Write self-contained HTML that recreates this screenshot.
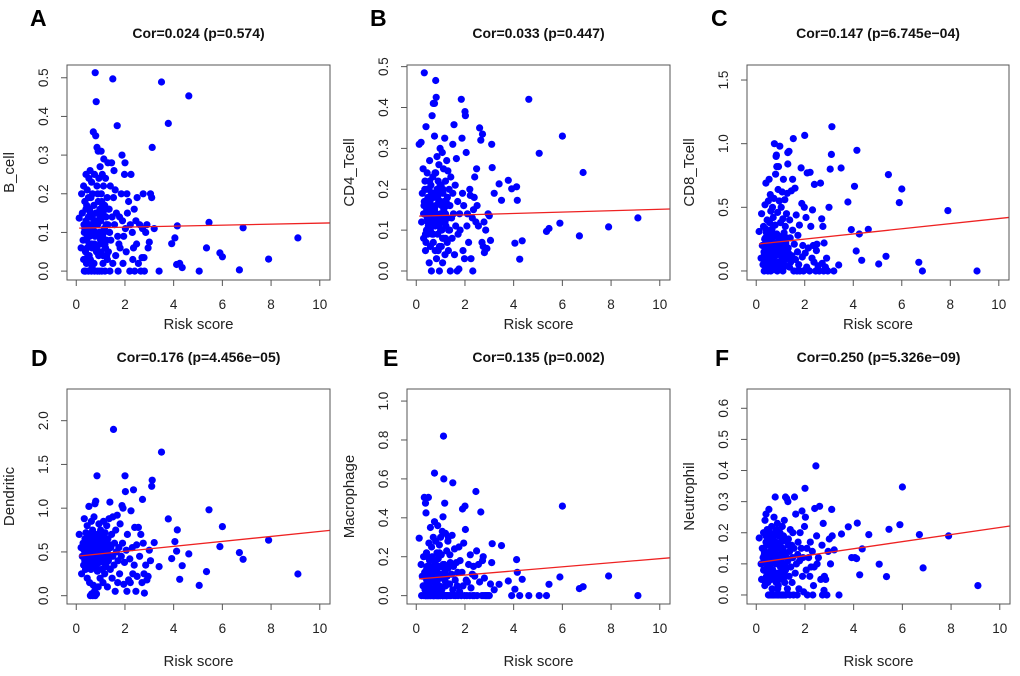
<!DOCTYPE html>
<html><head><meta charset="utf-8"><style>
html,body{margin:0;padding:0;background:#fff;}
svg{display:block;font-family:"Liberation Sans",Arial,sans-serif;}
</style></head><body>
<svg id="fig" width="1020" height="676" viewBox="0 0 1020 676" xmlns="http://www.w3.org/2000/svg"></svg>
<script>
// Shared risk score (x) values
const riskScore = [
0.12,0.2,0.22,0.25,0.28,0.3,0.32,0.33,0.35,0.36,0.38,0.4,0.4,0.42,0.43,0.45,0.45,0.47,0.48,0.5,
0.5,0.52,0.53,0.55,0.55,0.57,0.58,0.6,0.6,0.62,0.63,0.65,0.65,0.67,0.68,0.7,0.7,0.72,0.73,0.75,
0.75,0.77,0.78,0.8,0.8,0.82,0.83,0.85,0.85,0.87,0.88,0.9,0.9,0.92,0.93,0.95,0.95,0.97,0.98,1.0,
1.0,1.02,1.03,1.05,1.07,1.08,1.1,1.1,1.12,1.13,1.15,1.17,1.18,1.2,1.2,1.22,1.25,1.27,1.28,1.3,
1.3,1.32,1.35,1.37,1.38,1.4,1.42,1.45,1.47,1.5,1.5,1.53,1.55,1.57,1.6,1.62,1.65,1.68,1.7,1.72,
1.75,1.78,1.8,1.85,1.88,1.9,1.92,1.95,1.98,2.0,2.02,2.05,2.08,2.1,2.15,2.2,2.22,2.25,2.3,2.32,
2.35,2.38,2.4,2.45,2.48,2.5,2.55,2.6,2.65,2.7,2.72,2.75,2.78,2.8,2.85,2.9,2.95,3.0,3.05,3.1,
0.3,0.35,0.4,0.45,0.5,0.55,0.6,0.65,0.7,0.75,0.8,0.85,0.9,0.95,1.0,1.05,1.1,1.15,1.2,1.25,
0.33,0.38,0.43,0.48,0.53,0.58,0.63,0.68,0.73,0.78,0.83,0.88,0.93,0.98,1.03,1.08,1.13,1.18,1.23,1.33,
3.12,3.2,3.4,3.5,3.78,3.92,4.05,4.12,4.15,4.25,4.35,4.62,5.05,5.35,5.45,5.9,6.0,6.7,6.85,7.9,9.1];

const bCell = [
0.137,0.06,0.2,0.15,0.08,0.22,0.12,0.0,0.18,0.1,0.05,0.13,0.25,0.02,0.17,0.09,0.21,0.11,0.04,0.14,
0.0,0.24,0.07,0.16,0.12,0.26,0.03,0.19,0.1,0.0,0.23,0.14,0.06,0.2,0.11,0.36,0.02,0.17,0.13,0.25,
0.0,0.09,0.513,0.35,0.15,0.438,0.05,0.32,0.22,0.0,0.12,0.31,0.18,0.04,0.24,0.1,0.0,0.16,0.27,0.07,
0.13,0.31,0.2,0.0,0.25,0.09,0.15,0.04,0.22,0.29,0.11,0.17,0.0,0.06,0.24,0.14,0.08,0.19,0.03,0.12,
0.28,0.05,0.16,0.1,0.0,0.22,0.08,0.28,0.14,0.497,0.02,0.19,0.26,0.12,0.21,0.04,0.15,0.376,0.09,0.0,
0.07,0.14,0.06,0.2,0.3,0.13,0.02,0.09,0.25,0.28,0.11,0.05,0.2,0.15,0.18,0.0,0.12,0.25,0.1,0.03,
0.06,0.16,0.0,0.13,0.07,0.19,0.02,0.12,0.0,0.035,0.11,0.2,0.035,0.0,0.1,0.12,0.06,0.075,0.2,0.19,
0.03,0.11,0.16,0.06,0.19,0.09,0.14,0.01,0.12,0.07,0.1,0.05,0.15,0.13,0.08,0.18,0.02,0.11,0.16,0.04,
0.1,0.0,0.08,0.12,0.04,0.15,0.07,0.11,0.02,0.13,0.06,0.2,0.09,0.14,0.05,0.17,0.1,0.07,0.12,0.16,
0.32,0.11,0.0,0.489,0.382,0.071,0.086,0.017,0.117,0.02,0.009,0.453,0.0,0.06,0.126,0.047,0.037,0.003,0.112,0.031,0.086];

const cd4Tcell = [
0.31,0.315,0.12,0.19,0.25,0.08,0.16,0.485,0.14,0.22,0.05,0.353,0.17,0.1,0.2,0.13,0.24,0.09,0.18,0.15,
0.11,0.2,0.02,0.27,0.14,0.17,0.06,0.21,0.12,0.0,0.19,0.09,0.38,0.15,0.23,0.41,0.07,0.18,0.13,0.33,
0.41,0.24,0.11,0.466,0.16,0.425,0.03,0.2,0.28,0.13,0.09,0.22,0.05,0.17,0.26,0.12,0.0,0.19,0.3,0.14,
0.1,0.21,0.06,0.16,0.29,0.02,0.19,0.12,0.25,0.08,0.17,0.325,0.04,0.14,0.22,0.11,0.27,0.07,0.18,0.13,
0.245,0.05,0.2,0.1,0.16,0.0,0.23,0.13,0.08,0.19,0.31,0.14,0.358,0.04,0.21,0.11,0.275,0.0,0.17,0.09,
0.005,0.14,0.1,0.42,0.325,0.19,0.05,0.16,0.03,0.39,0.38,0.29,0.11,0.14,0.07,0.2,0.185,0.03,0.13,0.0,
0.15,0.18,0.23,0.12,0.25,0.16,0.11,0.35,0.32,0.07,0.335,0.06,0.12,0.045,0.1,0.055,0.14,0.135,0.075,0.31,
0.14,0.2,0.07,0.16,0.11,0.22,0.13,0.18,0.09,0.15,0.24,0.12,0.19,0.06,0.17,0.1,0.2,0.14,0.08,0.16,
0.17,0.09,0.15,0.12,0.2,0.1,0.16,0.13,0.19,0.05,0.14,0.18,0.11,0.21,0.13,0.08,0.15,0.12,0.17,0.1,
0.253,0.19,0.213,0.173,0.222,0.201,0.068,0.206,0.173,0.029,0.074,0.42,0.288,0.097,0.104,0.117,0.33,0.086,0.241,0.108,0.13];

const cd8Tcell = [
0.31,0.1,0.45,0.2,0.05,0.35,0.15,0.0,0.25,0.52,0.08,0.69,0.18,0.3,0.02,0.4,0.12,0.22,0.0,0.55,
0.14,0.28,0.72,0.06,0.38,0.19,0.6,0.0,0.47,0.24,0.1,0.33,0.03,0.5,0.16,0.27,0.42,0.08,0.57,0.21,
1.0,0.12,0.36,0.76,0.05,0.9,0.91,0.29,0.82,0.0,0.46,0.17,0.64,0.82,0.23,0.06,0.55,0.98,0.14,0.38,
0.02,0.27,0.5,0.11,0.62,0.19,0.0,0.41,0.72,0.08,0.3,0.15,0.56,0.04,0.35,0.22,0.45,0.1,0.61,0.84,
0.93,0.18,0.94,0.03,0.4,0.26,0.07,0.63,0.12,0.72,0.32,1.04,0.0,0.21,0.65,0.09,0.44,0.0,0.15,0.28,
0.05,0.36,0.0,0.81,0.53,0.11,0.2,0.0,0.5,1.065,0.14,0.42,0.03,0.77,0.18,0.0,0.775,0.35,0.1,0.48,
0.2,0.07,0.68,0.0,0.16,0.21,0.04,0.0,0.69,0.41,0.06,0.35,0.0,0.22,0.03,0.1,0.0,0.5,0.8,0.916,
0.2,0.08,0.33,0.15,0.25,0.04,0.18,0.3,0.1,0.22,0.12,0.28,0.06,0.19,0.14,0.24,0.02,0.17,0.09,0.26,
0.12,0.26,0.05,0.2,0.16,0.3,0.09,0.23,0.13,0.01,0.19,0.27,0.07,0.15,0.21,0.11,0.25,0.04,0.18,0.14,
1.133,0.0,0.047,0.809,0.542,0.325,0.665,0.157,0.948,0.29,0.084,0.327,0.055,0.115,0.757,0.537,0.644,0.068,0.0,0.474,0.0];

const dendritic = [
0.7,0.55,0.25,0.45,0.6,0.35,0.52,0.88,0.4,0.65,0.3,0.5,0.72,0.45,0.58,0.2,0.8,0.42,0.62,0.5,
0.38,1.02,0.48,0.7,0.15,0.55,0.0,0.62,0.42,0.85,0.02,0.5,0.33,0.75,0.0,0.58,0.12,0.45,0.9,0.05,
0.52,1.05,0.0,1.08,0.35,0.6,0.02,0.48,1.37,0.28,0.7,0.55,0.1,0.45,0.82,0.62,0.38,0.5,0.2,0.65,
0.75,0.42,0.58,0.3,0.68,0.5,0.15,0.6,0.85,0.4,0.55,0.25,0.72,0.45,0.62,0.35,0.8,0.52,0.1,0.48,
0.65,0.4,0.88,0.58,1.07,0.3,0.55,0.7,0.2,0.45,0.9,1.9,0.35,0.6,0.05,0.75,0.5,0.92,0.15,0.4,
0.55,0.25,0.82,0.45,1.03,0.6,1.0,0.13,0.38,1.37,1.19,0.52,0.05,0.7,0.18,0.42,0.15,0.97,0.55,0.25,
1.21,0.35,0.78,0.05,0.58,0.22,0.78,0.45,0.7,0.15,1.1,0.6,0.25,0.03,0.35,0.18,0.22,0.52,0.4,1.25,
0.45,0.62,0.38,0.55,0.7,0.48,0.3,0.58,0.65,0.42,0.52,0.36,0.6,0.47,0.7,0.4,0.55,0.63,0.33,0.5,
0.6,0.42,0.5,0.68,0.35,0.57,0.46,0.72,0.4,0.54,0.62,0.3,0.49,0.66,0.44,0.58,0.38,0.53,0.61,0.45,
1.32,0.607,0.332,1.641,0.878,0.424,0.618,0.508,0.752,0.187,0.343,0.477,0.118,0.275,0.981,0.561,0.79,0.492,0.416,0.634,0.248];

const macrophage = [
0.295,0.16,0.0,0.1,0.05,0.2,0.0,0.505,0.12,0.03,0.475,0.0,0.425,0.22,0.08,0.0,0.15,0.06,0.0,0.505,
0.0,0.27,0.1,0.0,0.18,0.04,0.35,0.0,0.12,0.07,0.25,0.0,0.2,0.03,0.14,0.0,0.3,0.09,0.0,0.63,
0.38,0.0,0.17,0.06,0.28,0.0,0.13,0.22,0.0,0.08,0.36,0.02,0.19,0.0,0.11,0.05,0.26,0.0,0.15,0.3,
0.0,0.09,0.21,0.03,0.33,0.0,0.405,0.16,0.82,0.6,0.0,0.475,0.12,0.05,0.32,0.0,0.23,0.1,0.0,0.28,
0.14,0.3,0.0,0.06,0.21,0.17,0.0,0.11,0.31,0.58,0.03,0.15,0.0,0.24,0.08,0.0,0.17,0.05,0.12,0.0,
0.25,0.02,0.18,0.0,0.12,0.445,0.05,0.27,0.0,0.46,0.34,0.08,0.0,0.07,0.16,0.0,0.21,0.04,0.11,0.0,
0.15,0.0,0.1,0.535,0.23,0.0,0.16,0.07,0.43,0.0,0.18,0.2,0.0,0.09,0.0,0.0,0.0,0.0,0.06,0.17,
0.05,0.12,0.0,0.2,0.08,0.15,0.02,0.1,0.0,0.18,0.06,0.13,0.0,0.22,0.04,0.11,0.0,0.16,0.07,0.0,
0.1,0.0,0.14,0.03,0.19,0.0,0.08,0.12,0.0,0.16,0.05,0.0,0.11,0.02,0.15,0.0,0.09,0.13,0.0,0.06,
0.267,0.03,0.058,0.257,0.075,0.0,0.033,0.185,0.12,0.0,0.084,0.0,0.0,0.0,0.058,0.096,0.46,0.036,0.046,0.101,0.0];

const neutrophil = [
0.183,0.1,0.05,0.15,0.12,0.2,0.08,0.14,0.03,0.24,0.11,0.26,0.17,0.06,0.13,0.21,0.09,0.16,0.04,0.12,
0.0,0.275,0.1,0.18,0.07,0.2,0.13,0.0,0.16,0.05,0.22,0.11,0.02,0.15,0.08,0.19,0.0,0.12,0.25,0.06,
0.14,0.0,0.315,0.1,0.17,0.04,0.21,0.0,0.12,0.23,0.07,0.16,0.0,0.19,0.1,0.13,0.05,0.2,0.0,0.15,
0.09,0.17,0.0,0.12,0.22,0.06,0.15,0.0,0.19,0.1,0.24,0.04,0.13,0.315,0.08,0.0,0.31,0.17,0.02,0.3,
0.11,0.18,0.06,0.14,0.0,0.21,0.09,0.16,0.04,0.12,0.2,0.0,0.15,0.315,0.07,0.26,0.1,0.0,0.13,0.17,
0.02,0.11,0.2,0.15,0.27,0.06,0.12,0.01,0.22,0.343,0.25,0.08,0.15,0.0,0.12,0.06,0.17,0.09,0.14,0.0,
0.03,0.09,0.278,0.415,0.19,0.1,0.12,0.285,0.05,0.16,0.0,0.23,0.015,0.06,0.05,0.0,0.14,0.18,0.1,0.275,
0.08,0.14,0.19,0.05,0.12,0.17,0.1,0.0,0.15,0.07,0.2,0.11,0.03,0.16,0.09,0.13,0.0,0.18,0.06,0.12,
0.13,0.04,0.16,0.1,0.0,0.14,0.08,0.18,0.11,0.05,0.15,0.02,0.12,0.19,0.07,0.1,0.14,0.0,0.09,0.16,
0.19,0.145,0.0,0.196,0.219,0.12,0.12,0.117,0.231,0.065,0.148,0.194,0.099,0.059,0.211,0.226,0.347,0.194,0.087,0.19,0.03];

const panelTitles = ["Cor=0.024 (p=0.574)","Cor=0.033 (p=0.447)","Cor=0.147 (p=6.745e\u221204)","Cor=0.176 (p=4.456e\u221205)","Cor=0.135 (p=0.002)","Cor=0.250 (p=5.326e\u221209)"];
const panelLetters = ["A","B","C","D","E","F"];
const yLabels = ["B_cell","CD4_Tcell","CD8_Tcell","Dendritic","Macrophage","Neutrophil"];
const xTicks = [0,2,4,6,8,10];
const yTicksA = ["0.0","0.1","0.2","0.3","0.4","0.5"];
const yTicksB = ["0.0","0.1","0.2","0.3","0.4","0.5"];
const yTicksC = ["0.0","0.5","1.0","1.5"];
const yTicksD = ["0.0","0.5","1.0","1.5","2.0"];
const yTicksE = ["0.0","0.2","0.4","0.6","0.8","1.0"];
const yTicksF = ["0.0","0.1","0.2","0.3","0.4","0.5","0.6"];
const fitIntercepts = [0.111,0.134,0.21,0.45,0.085,0.103];
const fitSlopes = [0.0013,0.0017,0.0202,0.0284,0.0105,0.0114];

const series = [bCell,cd4Tcell,cd8Tcell,dendritic,macrophage,neutrophil];
const yTickSets = [yTicksA,yTicksB,yTicksC,yTicksD,yTicksE,yTicksF];
const yLims = [[-0.023,0.533],[-0.022,0.504],[-0.071,1.618],[-0.095,2.362],[-0.043,1.062],[-0.029,0.662]];
const xLim = [-0.38,10.42];
const boxes = [[67,65,263,215],[407,65,263,215],[747,65,262,215],[67,389,263,215],[407,389,263,215],[747,389,263,215]];
const letterPos = [[30,26],[370,26],[711,26],[31,366],[383,366],[715,366]];

const NS="http://www.w3.org/2000/svg";
const svg=document.getElementById('fig');
function mk(tag,attrs,parent){const e=document.createElementNS(NS,tag);for(const k in attrs)e.setAttribute(k,attrs[k]);(parent||svg).appendChild(e);return e;}

for(let p=0;p<6;p++){
  const [bx,by,bw,bh]=boxes[p];
  const yl=yLims[p];
  const sx=v=>bx+(v-xLim[0])/(xLim[1]-xLim[0])*bw;
  const sy=v=>by+bh-(v-yl[0])/(yl[1]-yl[0])*bh;
  const g=mk('g',{});
  
  

  const L=mk('text',{x:letterPos[p][0],y:letterPos[p][1],'font-size':23,'font-weight':'bold',fill:'#000'},g);
  L.textContent=panelLetters[p];
  
  

  const T=mk('text',{x:bx+bw/2,y:by-27,'font-size':14,'font-weight':'bold','text-anchor':'middle',fill:'#111'},g);
  T.textContent=panelTitles[p];
  
  

  const pts=mk('g',{fill:'#0000ff'},g);
  
  
  const ys=series[p];
  for(let i=0;i<riskScore.length;i++){
    const c=mk('circle',{cx:sx(riskScore[i]).toFixed(1),cy:sy(ys[i]).toFixed(1),r:3.6},pts);
    
    
  }
  const x1=0.12,x2=xLim[1];
  const ln=mk('line',{x1:sx(x1),y1:sy(fitIntercepts[p]+fitSlopes[p]*x1),x2:bx+bw,y2:sy(fitIntercepts[p]+fitSlopes[p]*x2),stroke:'#ee2222','stroke-width':1.3},g);
  
  

  const box=mk('rect',{x:bx,y:by,width:bw,height:bh,fill:'none',stroke:'#555','stroke-width':1},g);
  
  

  const xa=mk('g',{},g);
  
  
  mk('line',{x1:sx(xTicks[0]),x2:sx(xTicks[xTicks.length-1]),y1:by+bh,y2:by+bh,stroke:'#555'},xa);
  for(const t of xTicks){
    mk('line',{x1:sx(t),x2:sx(t),y1:by+bh,y2:by+bh+6,stroke:'#555'},xa);
    const tx=mk('text',{x:sx(t),y:by+bh+29,'font-size':13.5,'text-anchor':'middle',fill:'#222'},xa);
    tx.textContent=t;
    
    
  }
  const xt=mk('text',{x:bx+bw/2,y:(p<3?by+bh+49:by+bh+62),'font-size':15,'text-anchor':'middle',fill:'#222'},g);
  xt.textContent='Risk score';
  
  

  const ya=mk('g',{},g);
  
  
  const tk=yTickSets[p];
  mk('line',{x1:bx,x2:bx,y1:sy(parseFloat(tk[0])),y2:sy(parseFloat(tk[tk.length-1])),stroke:'#555'},ya);
  for(const t of tk){
    const v=parseFloat(t), yy=sy(v);
    mk('line',{x1:bx-6,x2:bx,y1:yy,y2:yy,stroke:'#555'},ya);
    const tx=mk('text',{x:0,y:0,'font-size':13.5,'text-anchor':'middle',fill:'#222',transform:`translate(${bx-19},${yy}) rotate(-90)`},ya);
    tx.textContent=t;
    
    
  }
  const yt=mk('text',{x:0,y:0,'font-size':15,'text-anchor':'middle',fill:'#222',transform:`translate(${bx-53},${by+bh/2}) rotate(-90)`},g);
  yt.textContent=yLabels[p];
  
  
}
</script>
</body></html>
